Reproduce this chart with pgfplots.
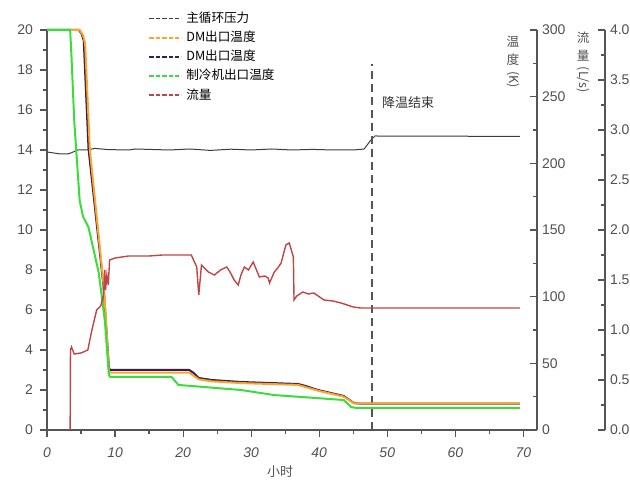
\documentclass[border=0pt]{standalone}
\usepackage{pgfplots}
\pgfplotsset{compat=1.18}
\usepackage{fontspec}
\setmainfont{Liberation Sans}
\newfontfamily\cjk{Noto Sans CJK SC}
\definecolor{axgray}{RGB}{85,85,85}
\definecolor{lblgray}{RGB}{80,80,80}
\definecolor{cOrange}{RGB}{250,165,45}
\definecolor{cNavy}{RGB}{55,30,75}
\definecolor{cGreen}{RGB}{60,220,60}
\definecolor{cRed}{RGB}{190,70,70}
\definecolor{cBlack}{RGB}{60,60,60}

\pgfplotsset{
  common/.style={
    scale only axis, height=200pt, ymin=0,
    axis line style={axgray, line width=0.8pt},
    tick style={axgray, line width=0.6pt},
    major tick length=3.5pt, minor tick length=2pt,
    tick label style={font=\fontsize{7}{8}\selectfont, text=lblgray},
    /pgf/number format/assume math mode=true,
    clip=false,
  }
}

\begin{document}
\begin{tikzpicture}
% ---------- pressure (left axis) ----------
\begin{axis}[common,
  width=245pt, xmin=0, xmax=72, ymax=20,
  axis x line*=bottom, axis y line*=left,
  xtick={0,10,...,70}, minor x tick num=1,
  ytick={0,2,...,20}, minor y tick num=1,
  tick align=outside,
  xticklabel style={font=\fontsize{7}{8}\selectfont\itshape, yshift=-2pt},
  legend style={draw=none, fill=none, font=\cjk\fontsize{6.3}{7}\selectfont,
    at={(0.206,1.057)}, anchor=north west, row sep=-1.2pt, inner sep=0pt},
  legend cell align=left,
  legend image code/.code={\draw[#1, dash pattern=on 2.2pt off 1pt] (0pt,0pt) -- (16pt,0pt);},
]
\addplot[cBlack, line width=0.5pt] coordinates {
(0,13.9)(1,13.85)(2,13.8)(3,13.8)(3.5,13.85)(4.5,14.0)(6,14.0)(7,14.08)(8,14.05)(9,14.02)
(12,14.0)(13,14.05)(15,14.03)(18,14.0)(21,14.05)(24,13.98)(27,14.04)(30,14.0)(33,14.05)
(36,14.0)(39,14.03)(42,14.0)(45,14.0)(46.6,14.05)(47.6,14.5)(48.2,14.7)(69.5,14.68)};
\addlegendentry{主循环压力}
\addlegendimage{cOrange, line width=1pt}
\addlegendentry{DM出口温度}
\addlegendimage{cNavy, line width=1pt}
\addlegendentry{DM出口温度}
\addlegendimage{cGreen, line width=1pt}
\addlegendentry{制冷机出口温度}
\addlegendimage{cRed, line width=1pt}
\addlegendentry{流量}
% end-of-cooling marker
\addplot[axgray, line width=1.1pt, dash pattern=on 4pt off 2.5pt, forget plot] coordinates {(47.8,0)(47.8,18.3)};
\node[anchor=west, font=\cjk\fontsize{6.5}{7}\selectfont, text=black!80] at (axis cs:48.2,16.35) {降温结束};
\node[font=\cjk\fontsize{6.5}{7}\selectfont, text=lblgray] at (rel axis cs:0.476,0) [yshift=-21pt] {小时};
\node[anchor=north, font=\cjk\fontsize{6.3}{7}\selectfont, text=lblgray, align=center, inner sep=0pt]
  at (rel axis cs:0.951,0.985) {\shortstack{温\\度\\\rotatebox{-90}{(K)}}};
\node[anchor=north, font=\cjk\fontsize{6.3}{7}\selectfont, text=lblgray, align=center, inner sep=0pt]
  at (rel axis cs:1.094,0.995) {\shortstack{流\\量\\\rotatebox{-90}{(L/s)}}};
\end{axis}

% ---------- temperatures (right axis, K) ----------
\begin{axis}[common,
  width=245pt, xmin=0, xmax=72, ymax=300,
  axis x line=none, axis y line*=right,
  ytick={0,50,...,300}, minor y tick num=1,
  tick align=inside,
  yticklabel style={xshift=-1pt},
]
\addplot[cNavy, line width=1pt] coordinates {
(0,300)(4.7,300)(5.1,297)(5.4,292)(6.1,211)(8.3,108)(9.1,46.5)(9.3,45)(20.9,45)(21.5,43)
(22.3,39)(24.2,37.5)(28.5,36)(36.9,34.5)(38,33)(39.8,30)(43.6,25.5)(45.1,20.2)(46,19.8)(69.5,19.8)};
\addplot[cOrange, line width=1pt] coordinates {
(0,300)(4.8,300)(5.3,296)(5.6,290)(6.3,210)(8.4,105)(9.1,44)(9.3,43)(20.9,43)(22.3,38)
(24.2,36.5)(28.5,35.2)(36.9,33.8)(39.8,29.5)(43.6,25)(45.1,20)(69.5,20)};
\addplot[cGreen, line width=1pt] coordinates {
(0,300)(3.4,300)(3.6,280)(4.0,232)(4.4,202)(4.8,172)(5.3,160)(6.1,152)(7.6,118)(8.5,82)
(9.1,41)(9.3,39.8)(18.3,39.8)(19.3,33.8)(28.5,30)(33.4,26.2)(43.6,22.5)(44.7,17.2)(45.5,16.5)(69.5,16.5)};
\end{axis}

% ---------- flow (far right axis, L/s) ----------
\begin{axis}[common,
  width=279pt, xmin=0, xmax=81.99184, ymax=4,
  axis x line=none, axis y line*=right,
  ytick={0,0.5,...,4}, minor y tick num=1,
  yticklabel style={/pgf/number format/fixed, /pgf/number format/fixed zerofill, /pgf/number format/precision=1, xshift=-1pt},
  tick align=inside,
]
\addplot[cRed, line width=0.7pt] coordinates {
(3.4,0)(3.45,0.8)(3.6,0.83)(4.0,0.76)(5.0,0.77)(6.0,0.8)(6.6,1.0)(7.3,1.2)(7.9,1.24)(8.3,1.35)
(8.5,1.6)(8.6,1.4)(8.8,1.55)(9.0,1.45)(9.2,1.7)(10,1.72)(12,1.74)(15,1.74)(17,1.75)(21.2,1.75)
(22.0,1.63)(22.3,1.35)(22.7,1.65)(23.7,1.58)(24.6,1.55)(25.5,1.6)(26.4,1.63)(26.9,1.58)(27.5,1.5)
(28.1,1.45)(28.5,1.55)(29.0,1.63)(29.6,1.6)(30.3,1.68)(31.2,1.53)(32.0,1.54)(32.5,1.52)(32.7,1.47)
(33.4,1.58)(33.9,1.62)(34.4,1.67)(35.1,1.85)(35.6,1.87)(36.2,1.73)(36.3,1.3)(36.7,1.34)(37.6,1.38)
(38.4,1.36)(39.2,1.37)(40.7,1.3)(42,1.29)(43.2,1.27)(45,1.23)(46.1,1.22)(69.5,1.22)};
\end{axis}
\pgfresetboundingbox
\path (-23.5pt,-28pt) rectangle (291.5pt,215pt);
\end{tikzpicture}
\end{document}
